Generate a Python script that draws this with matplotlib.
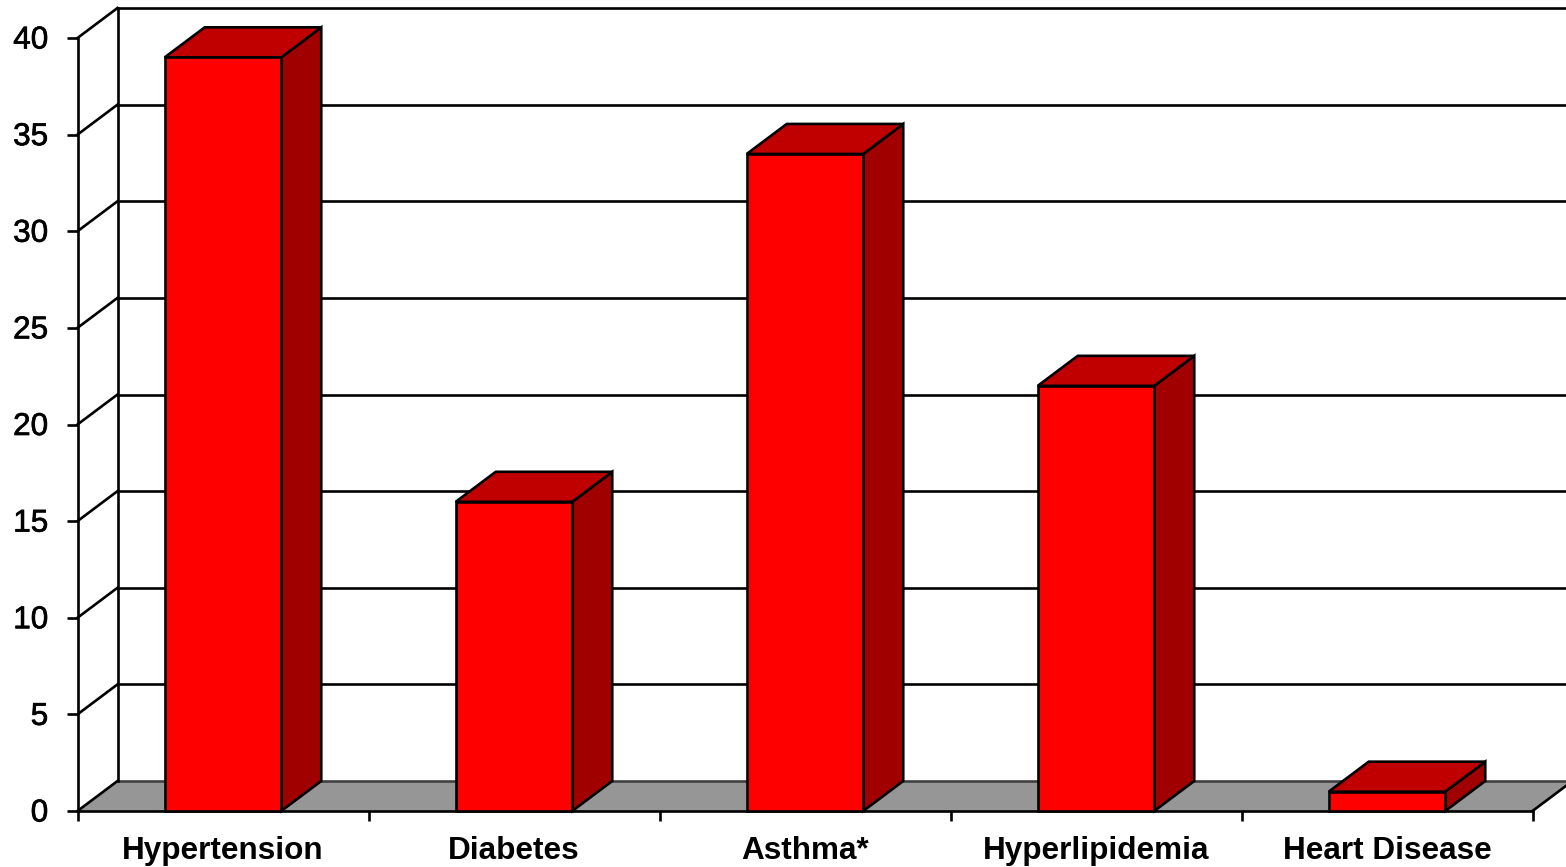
import matplotlib
matplotlib.use("Agg")
import matplotlib.pyplot as plt
import matplotlib.patheffects as pe
from matplotlib.patches import Polygon
from matplotlib.transforms import ScaledTranslation

categories = ["Hypertension", "Diabetes", "Asthma*", "Hyperlipidemia", "Heart Disease"]
values = [39, 16, 34, 22, 1]
y_ticks = [0, 5, 10, 15, 20, 25, 30, 35, 40]

WIDTH, HEIGHT = 1566, 867
LEFT, RIGHT = 77.5, 1532.5  # front edge of the floor, px
BASE, TOP = 811, 38         # y=0 and y=40 on the front plane, px
DEPTH_X, DEPTH_Y = 40, 30   # oblique offset of the back plane, px

RED = "#ff0000"
RED_TOP = "#c00000"
RED_SIDE = "#a00000"
FLOOR = "#969696"
LW = 1.9

plt.rcParams["font.family"] = ["Liberation Sans", "DejaVu Sans"]

fig = plt.figure(figsize=(WIDTH / 100, HEIGHT / 100), dpi=100)
ax = fig.add_axes([0, 0, 1, 1])

# one x unit is a category, one y unit is a value
x_unit = (RIGHT - LEFT) / len(categories)
y_unit = (BASE - TOP) / y_ticks[-1]
ax.set_xlim(-LEFT / x_unit, (WIDTH - LEFT) / x_unit)
ax.set_ylim((BASE - HEIGHT) / y_unit, BASE / y_unit)
dx = DEPTH_X / x_unit
dy = DEPTH_Y / y_unit
n = len(categories)
top = y_ticks[-1]
far = n + 1  # past the right edge, lines run off the canvas


def panel(points, color, z):
    ax.add_patch(Polygon(points, closed=True, facecolor=color, edgecolor="black",
                         linewidth=LW, joinstyle="miter", zorder=z))


# floor
ax.add_patch(Polygon([(0, 0), (dx, dy), (n + dx, dy), (n, 0)], closed=True,
                     facecolor=FLOOR, edgecolor="none", zorder=1))
ax.plot([dx, n + dx], [dy, dy], color="#404040", lw=LW, zorder=1.5)
ax.plot([0, dx], [0, dy], color="black", lw=LW, zorder=1.5)
ax.plot([n, n + dx], [0, dy], color="black", lw=LW, zorder=1.5)

# back wall grid and the slanted lines on the side wall
for t in y_ticks[1:]:
    ax.plot([dx, far], [t + dy, t + dy], color="black", lw=LW, zorder=1)
    ax.plot([0, dx], [t, t + dy], color="black", lw=LW, zorder=1)
ax.plot([dx, dx], [dy, top + dy], color="black", lw=LW, zorder=1.5)

# bars with front, top and side faces
bar_w = 116.5 / x_unit
for i, v in enumerate(values):
    x0 = i + 0.5 - bar_w / 2
    x1 = x0 + bar_w
    panel([(x1, 0), (x1 + dx, dy), (x1 + dx, v + dy), (x1, v)], RED_SIDE, 3)
    panel([(x0, v), (x0 + dx, v + dy), (x1 + dx, v + dy), (x1, v)], RED_TOP, 3)
    panel([(x0, 0), (x1, 0), (x1, v), (x0, v)], RED, 3)

# front axes
for side in ("top", "right"):
    ax.spines[side].set_visible(False)
ax.spines["left"].set_position(("data", 0))
ax.spines["left"].set_bounds(0, top)
ax.spines["bottom"].set_position(("data", 0))
ax.spines["bottom"].set_bounds(0, n)
for side in ("left", "bottom"):
    ax.spines[side].set_linewidth(LW)
    ax.spines[side].set_zorder(2)

ax.set_yticks(y_ticks)
ax.set_yticklabels([str(t) for t in y_ticks], fontsize=22.7)
ax.tick_params(axis="y", length=8, width=LW, pad=13)
lift = ScaledTranslation(0, 1 / 100, fig.dpi_scale_trans)
for label in ax.get_yticklabels():
    label.set_transform(label.get_transform() + lift)
    label.set_path_effects([pe.withStroke(linewidth=0.5, foreground="black")])

ax.set_xticks(range(n + 1))
ax.set_xticklabels([])
ax.tick_params(axis="x", which="major", length=7, width=LW)
ax.set_xticks([i + 0.5 for i in range(n)], minor=True)
ax.set_xticklabels(categories, minor=True, fontsize=22.7, fontweight="bold")
ax.tick_params(axis="x", which="minor", length=0, pad=18)

fig.savefig("out.png", dpi=100, facecolor="white")
